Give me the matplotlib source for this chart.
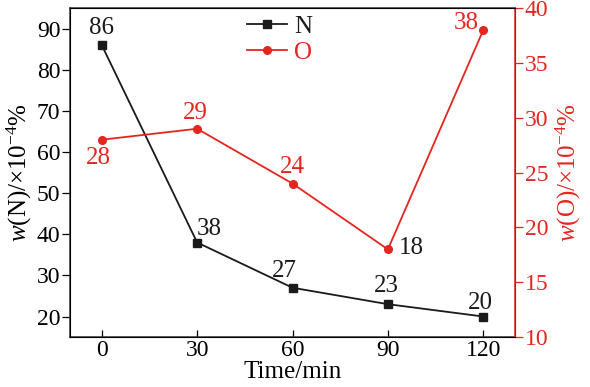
import matplotlib
matplotlib.use("Agg")
import matplotlib.pyplot as plt

time = [0, 30, 60, 90, 120]
n_vals = [86, 38, 27, 23, 20]
o_vals = [28, 29, 24, 18, 38]
x_ticks = [0, 30, 60, 90, 120]
n_ticks = [20, 30, 40, 50, 60, 70, 80, 90]
o_ticks = [10, 15, 20, 25, 30, 35, 40]

RED = '#e3261f'
BLACK = '#1a1a1a'
plt.rcParams['font.family'] = ['Liberation Serif', 'DejaVu Serif']
plt.rcParams['mathtext.fontset'] = 'custom'
plt.rcParams['mathtext.rm'] = 'Liberation Serif'
plt.rcParams['mathtext.it'] = 'Liberation Serif:italic'

fig = plt.figure(figsize=(5.9, 3.87), dpi=100)
ax = fig.add_axes([0.1186, 0.129, 0.7544, 0.85])
ax2 = ax.twinx()

lN, = ax.plot(time, n_vals, '-s', color=BLACK, lw=1.3, ms=5.5, label='N')
lO, = ax2.plot(time, o_vals, '-o', color=RED, lw=1.3, ms=5.5, label='O')

ax.set_xlim(-10, 130)
ax.set_ylim(15, 95)
ax2.set_ylim(10, 40)
ax.set_xticks(x_ticks)
ax.set_yticks(n_ticks)
ax2.set_yticks(o_ticks)

fs = 18
tfs = 17
ax.tick_params(axis='x', direction='in', labelsize=tfs, length=5, top=False, width=0.9, pad=2)
ax.tick_params(axis='y', direction='out', labelsize=tfs, length=6, width=0.9, pad=1)
ax2.tick_params(axis='y', direction='out', labelsize=tfs, length=6, colors=RED, width=0.9, pad=1)
ax2.spines['right'].set_color(RED)
ax2.spines['right'].set_linewidth(1.1)
for s in ['left', 'top', 'bottom']:
    ax.spines[s].set_color('#333333')
    ax.spines[s].set_linewidth(1.1)

ax.set_xlabel('Time/min', fontsize=fs, labelpad=0)
ax.set_ylabel(r'$w$(N)/×10$^{-4}$%', fontsize=fs, labelpad=2)
ax2.set_ylabel(r'$w$(O)/×10$^{-4}$%', fontsize=fs, color=RED, labelpad=4)

# label offsets in pixels (dx, dy) from the marker to the text centre
n_off = [(0, 17), (12, 14), (-8, 17), (-2, 18), (-3, 14)]
for (x, y, off) in zip(time, n_vals, n_off):
    ax.annotate(str(y), (x, y), xytext=off, textcoords='offset pixels',
                ha='center', va='center', fontsize=fs, color=BLACK)

o_off = [(-3, -18), (-2, 16), (0, 17), (23, 1), (-17, 7)]
o_col = [RED, RED, RED, BLACK, RED]
for (x, y, off, c) in zip(time, o_vals, o_off, o_col):
    ax2.annotate(str(y), (x, y), xytext=off, textcoords='offset pixels',
                 ha='center', va='center', fontsize=fs, color=c)

leg = ax.legend([lN, lO], ['N', 'O'], loc='upper left',
                bbox_to_anchor=(224 / 590, (387 + 7) / 387), bbox_transform=fig.transFigure,
                frameon=False, fontsize=fs, handlelength=1.6, handletextpad=0.3,
                labelspacing=0.15)
for t, c in zip(leg.get_texts(), [BLACK, RED]):
    t.set_color(c)

fig.savefig('out.png', dpi=100)
